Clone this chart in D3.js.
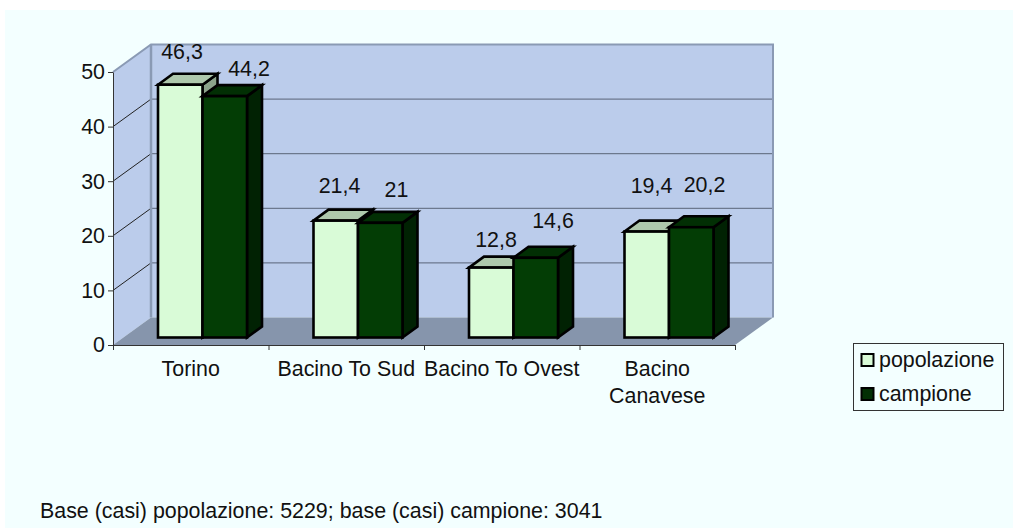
<!DOCTYPE html>
<html>
<head>
<meta charset="utf-8">
<script src="https://cdn.jsdelivr.net/npm/d3@7"></script>
<style>
  html, body { margin: 0; padding: 0; background: #fff; }
  text { font-family: "Liberation Sans", Arial, sans-serif; fill: #111; }
</style>
</head>
<body>
<div id="chart"></div>
<script>
const categories = [['Torino'], ['Bacino To Sud'], ['Bacino To Ovest'], ['Bacino', 'Canavese']];
const seriesNames = ['popolazione', 'campione'];
const popolazione = [46.3, 21.4, 12.8, 19.4];
const campione = [44.2, 21, 14.6, 20.2];
const yTicks = [0, 10, 20, 30, 40, 50];
const footnote = 'Base (casi) popolazione: 5229; base (casi) campione: 3041';

const width = 1013;
const height = 528;
const depthX = 38;      // wall depth
const depthY = -27.5;
const barDepthX = 15;
const barDepthY = -11;
const barBase = 337.5;
const fontSize = 21.4;

// the labels sit where the original chart dragged them, so each gets a nudge from its bar
const popLabelNudge = [[2, -26], [4, -28], [5, -21], [5, -39]];
const campLabelNudge = [[24, -20], [16, -26], [17, -30], [13, -35]];

const colors = {
  page: '#f3ffff',
  wall: '#bbcceb',
  floor: '#8695ac',
  wallEdge: '#8a9ab4',
  grid: '#5a6478',
  pop: '#d9fbd7',
  popTop: '#aec8ac',
  popSide: '#8ba38a',
  camp: '#033d05',
  campTop: '#022f04',
  campSide: '#012203'
};

const svg = d3.select('#chart').append('svg')
  .attr('width', width)
  .attr('height', height)
  .style('display', 'block');

svg.append('rect')
  .attr('x', 5).attr('y', 10)
  .attr('width', width - 5).attr('height', height - 10)
  .attr('fill', colors.page);

const y = d3.scaleLinear().domain([0, 50]).range([345, 72]);
const x = d3.scaleBand().domain(d3.range(categories.length)).range([113, 735]);
const barX = d3.scaleBand().domain(seriesNames).range([45, 134]);
const barY = d3.scaleLinear().domain([0, 50]).range([barBase, barBase - 273]);

const poly = pts => pts.map(p => p.join(',')).join(' ');
const x0 = x.range()[0];
const x1 = x.range()[1];

// walls and floor
svg.append('polygon')
  .attr('points', poly([[x0, y(0)], [x0, y(50)], [x0 + depthX, y(50) + depthY], [x0 + depthX, y(0) + depthY]]))
  .attr('fill', colors.wall);
svg.append('rect')
  .attr('x', x0 + depthX).attr('y', y(50) + depthY)
  .attr('width', x1 - x0).attr('height', y(0) - y(50))
  .attr('fill', colors.wall);
svg.append('polygon')
  .attr('points', poly([[x0, y(0)], [x1, y(0)], [x1 + depthX, y(0) + depthY], [x0 + depthX, y(0) + depthY]]))
  .attr('fill', colors.floor);

// grid lines
const gridTicks = yTicks.filter(d => d > 0);
svg.append('g').selectAll('line')
  .data(gridTicks.slice(0, -1))
  .join('line')
  .attr('x1', x0 + depthX).attr('x2', x1 + depthX)
  .attr('y1', d => y(d) + depthY).attr('y2', d => y(d) + depthY)
  .attr('stroke', colors.grid).attr('stroke-width', 1);
svg.append('g').selectAll('line')
  .data(gridTicks.slice(0, -1))
  .join('line')
  .attr('x1', x0).attr('x2', x0 + depthX)
  .attr('y1', d => y(d)).attr('y2', d => y(d) + depthY)
  .attr('stroke', '#222').attr('stroke-width', 1);

// wall edges
svg.append('path')
  .attr('d', `M${x0},${y(50)}L${x0 + depthX},${y(50) + depthY}H${x1 + depthX}V${y(0) + depthY}`)
  .attr('fill', 'none').attr('stroke', colors.wallEdge).attr('stroke-width', 2);
svg.append('line')
  .attr('x1', x0 + depthX).attr('x2', x0 + depthX)
  .attr('y1', y(50) + depthY).attr('y2', y(0) + depthY)
  .attr('stroke', colors.wallEdge).attr('stroke-width', 2.5);

// left bar first so the right one overlaps
const series = [
  { name: seriesNames[0], values: popolazione, nudge: popLabelNudge, front: colors.pop, top: colors.popTop, side: colors.popSide, swatch: colors.pop },
  { name: seriesNames[1], values: campione, nudge: campLabelNudge, front: colors.camp, top: colors.campTop, side: colors.campSide, swatch: colors.campTop }
];

series.forEach(s => {
  const g = svg.append('g')
    .attr('stroke', '#000').attr('stroke-width', 2.6).attr('stroke-linejoin', 'miter');
  s.values.forEach((v, i) => {
    const left = x(i) + barX(s.name);
    const right = left + barX.bandwidth();
    const top = barY(v);
    g.append('polygon')
      .attr('points', poly([[right, top], [right + barDepthX, top + barDepthY], [right + barDepthX, barBase + barDepthY], [right, barBase]]))
      .attr('fill', s.side);
    g.append('polygon')
      .attr('points', poly([[left, top], [left + barDepthX, top + barDepthY], [right + barDepthX, top + barDepthY], [right, top]]))
      .attr('fill', s.top);
    g.append('rect')
      .attr('x', left).attr('y', top)
      .attr('width', right - left).attr('height', barBase - top)
      .attr('fill', s.front);
  });
});

// data labels
series.forEach(s => {
  svg.append('g').selectAll('text')
    .data(s.values)
    .join('text')
    .attr('x', (d, i) => x(i) + 45 + (s.name === seriesNames[0] ? 22 : 67) + s.nudge[i][0])
    .attr('y', (d, i) => barY(d) + s.nudge[i][1])
    .attr('text-anchor', 'middle')
    .attr('font-size', fontSize)
    .text(d => String(d).replace('.', ','));
});

// axes
const yAxis = svg.append('g')
  .attr('transform', `translate(${x0},0)`)
  .call(d3.axisLeft(y).tickValues(yTicks).tickSizeOuter(0).tickSizeInner(5).tickPadding(3));
yAxis.selectAll('text').attr('font-size', fontSize).attr('font-family', null);
yAxis.selectAll('line,path').attr('stroke', '#333');

const xAxis = svg.append('g')
  .attr('transform', `translate(0,${y(0)})`)
  .call(d3.axisBottom(d3.scaleLinear().domain([0, 4]).range([x0, x1])).ticks(4).tickSizeOuter(0).tickSizeInner(5).tickFormat(''));
xAxis.selectAll('line,path').attr('stroke', '#333');

svg.append('g').selectAll('text')
  .data(categories)
  .join('text')
  .attr('font-size', fontSize)
  .attr('text-anchor', 'middle')
  .attr('x', (d, i) => x(i) + x.bandwidth() / 2)
  .attr('y', 376)
  .selectAll('tspan')
  .data(d => d)
  .join('tspan')
  .attr('x', function () { return d3.select(this.parentNode).attr('x'); })
  .attr('dy', (d, i) => i ? 27 : 0)
  .text(d => d);

// legend
const legend = svg.append('g');
legend.append('rect')
  .attr('x', 853.5).attr('y', 343.5)
  .attr('width', 150).attr('height', 67)
  .attr('fill', 'none').attr('stroke', '#333').attr('stroke-width', 1);
seriesNames.forEach((name, i) => {
  const row = 360 + i * 34;
  legend.append('rect')
    .attr('x', 861.5).attr('y', row - 6)
    .attr('width', 12).attr('height', 12)
    .attr('fill', series[i].swatch)
    .attr('stroke', '#000').attr('stroke-width', 2);
  legend.append('text')
    .attr('x', 879).attr('y', row + 7)
    .attr('font-size', fontSize)
    .text(name);
});

svg.append('text')
  .attr('x', 40).attr('y', 518)
  .attr('font-size', fontSize)
  .text(footnote);
</script>
</body>
</html>
